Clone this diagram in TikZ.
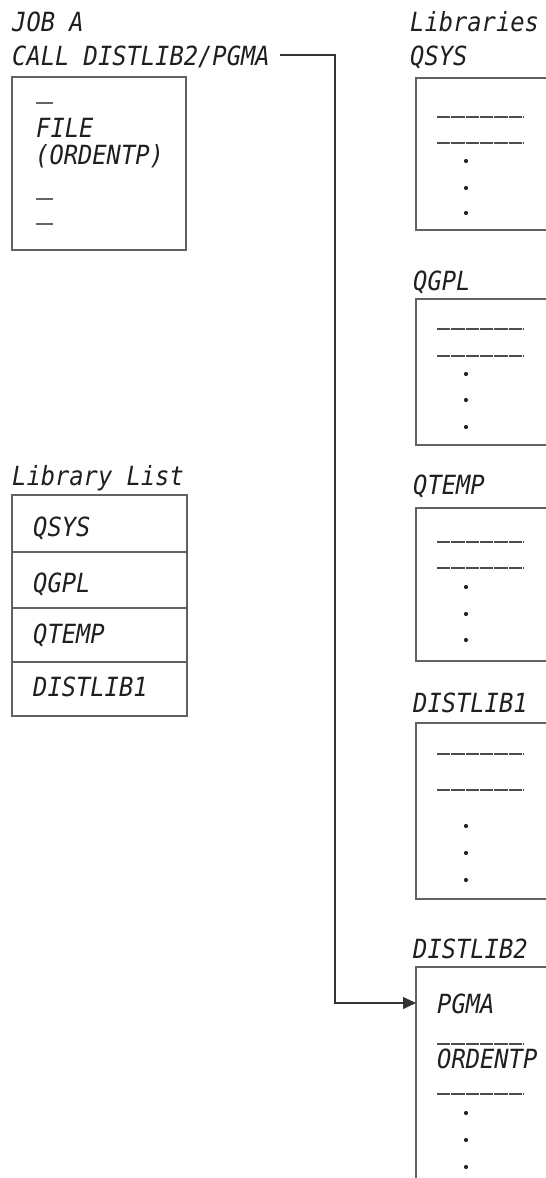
\documentclass[tikz,border=0pt]{standalone}
\usepackage{fontspec}
\newfontfamily\monofnt{DejaVu Sans Mono}[FakeStretch=0.9]
\usetikzlibrary{arrows.meta}
\begin{document}
\begin{tikzpicture}[x=1pt,y=-1pt,
  txt/.style={inner sep=0pt, anchor=base west, font=\monofnt\itshape\fontsize{26.4}{30}\selectfont, text=black!88},
  frame/.style={draw=black!62, line width=1.3pt},
  bar/.style={draw=black!70, line width=1.3pt, dash pattern=on 13.3pt off 1pt},
  shortbar/.style={draw=black!60, line width=1.3pt},
  dotmark/.style={fill=black!85, circle, inner sep=0pt, minimum size=4.2pt},
  wire/.style={draw=black!80, line width=1.2pt}]
\useasboundingbox (0,0) rectangle (546,1178);
\clip (0,0) rectangle (546,1178);
\fill[white] (0,0) rectangle (546,1178);

% ---- Job A ----
\node[txt] (joba) at (12,31) {JOB A};
\node[txt] (call) at (12,65) {CALL DISTLIB2/PGMA};
\draw[frame] (12,77) rectangle (186,250);
\draw[shortbar] (36,103) -- (53,103);
\node[txt] (file) at (36,137) {FILE};
\node[txt] (ordf) at (35,164) {(ORDENTP)};
\draw[shortbar] (36,199) -- (53,199);
\draw[shortbar] (36,224) -- (53,224);

% ---- Library list ----
\node[txt] (liblist) at (12,485) {Library List};
\draw[frame] (12,495) rectangle (187,716);
\draw[frame] (12,552) -- (187,552);
\draw[frame] (12,608) -- (187,608);
\draw[frame] (12,662) -- (187,662);
\node[txt] (l1) at (33,536) {QSYS};
\node[txt] (l2) at (33,592) {QGPL};
\node[txt] (l3) at (33,643) {QTEMP};
\node[txt] (l4) at (33,696) {DISTLIB1};

% ---- Libraries ----
\node[txt] (libs) at (410,31) {Libraries};

% QSYS
\node[txt] (qsys) at (410,65) {QSYS};
\draw[frame] (416,78) rectangle (600,230);
\draw[bar] (437,117) -- (523,117);
\draw[bar] (437,143) -- (523,143);
\node[dotmark] at (466,161) {};
\node[dotmark] at (466,188) {};
\node[dotmark] at (466,213) {};

% QGPL
\node[txt] (qgpl) at (413,290) {QGPL};
\draw[frame] (416,299) rectangle (600,445);
\draw[bar] (437,329) -- (523,329);
\draw[bar] (437,356) -- (523,356);
\node[dotmark] at (466,374) {};
\node[dotmark] at (466,400) {};
\node[dotmark] at (466,427) {};

% QTEMP
\node[txt] (qtemp) at (413,494) {QTEMP};
\draw[frame] (416,508) rectangle (600,661);
\draw[bar] (437,542) -- (523,542);
\draw[bar] (437,568) -- (523,568);
\node[dotmark] at (466,587) {};
\node[dotmark] at (466,614) {};
\node[dotmark] at (466,640) {};

% DISTLIB1
\node[txt] (dl1) at (413,712) {DISTLIB1};
\draw[frame] (416,723) rectangle (600,899);
\draw[bar] (437,754) -- (523,754);
\draw[bar] (437,790) -- (523,790);
\node[dotmark] at (466,826) {};
\node[dotmark] at (466,853) {};
\node[dotmark] at (466,880) {};

% DISTLIB2
\node[txt] (dl2) at (413,958) {DISTLIB2};
\draw[frame] (416,1300) -- (416,967) -- (600,967);
\node[txt] (pgma) at (437,1013) {PGMA};
\draw[bar] (437,1044) -- (523,1044);
\node[txt] (ordd) at (437,1068) {ORDENTP};
\draw[bar] (437,1094) -- (523,1094);
\node[dotmark] at (466,1113) {};
\node[dotmark] at (466,1140) {};
\node[dotmark] at (466,1167) {};

% ---- connector ----
\coordinate (w0) at (280,55);
\coordinate (w2) at (335,1003);
\coordinate (d2in) at (416,1003);
\draw[wire, -{Triangle[length=13pt,width=12pt]}] (w0) -| (w2) -- (d2in);
\end{tikzpicture}
\end{document}
